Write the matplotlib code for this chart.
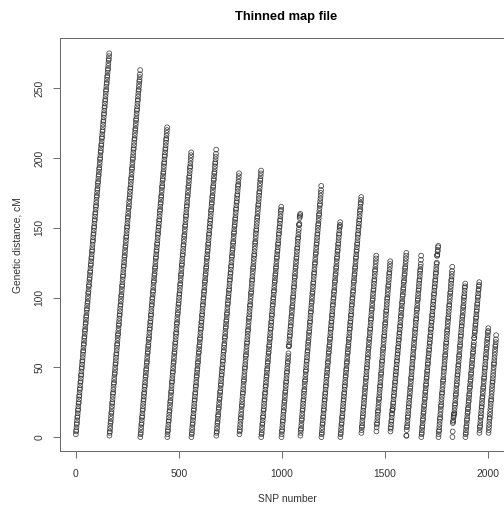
import numpy as np
import matplotlib
matplotlib.use("Agg")
import matplotlib.pyplot as plt

plt.rcParams['font.family'] = ['Liberation Sans', 'DejaVu Sans']

# first SNP number of each chromosome
chrom_start = [0, 163, 313, 444, 561, 682, 794, 900, 998, 1090, 1192, 1284, 1386, 1459, 1527, 1604, 1677, 1760, 1828, 1891, 1959, 2003]

# genetic distance in cM, one list per chromosome
chr1 = [2,4,5,7,9,10,12,14,15,17,19,20,22,24,25,27,29,30,32,34,35,37,39,40,42,44,45,47,49,50,52,54,55,57,59,61,62,64,66,67,69,71,72,74,76,77,79,81,82,84,86,87,89,91,92,94,96,97,99,101,103,104,106,108,109,111,113,114,116,118,119,121,123,124,126,128,129,131,133,134,136,138,140,141,143,145,146,148,150,151,153,155,156,158,160,161,163,165,166,168,170,172,173,175,177,178,180,182,183,185,187,188,190,192,193,195,197,199,200,202,204,205,207,209,210,212,214,215,217,219,220,222,224,226,227,229,231,232,234,236,237,239,241,242,244,246,248,249,251,253,254,256,258,259,261,263,264,266,268,270,271,273,275]
chr2 = [1,3,4,6,8,10,11,13,15,17,18,20,22,24,25,27,29,31,32,34,36,38,39,41,43,45,46,48,50,52,53,55,57,59,60,62,64,66,67,69,71,73,74,76,78,80,81,83,85,87,88,90,92,94,95,97,99,101,102,104,106,108,109,111,113,115,116,118,120,122,123,125,127,129,130,132,134,136,137,139,141,143,144,146,148,150,151,153,155,157,158,160,162,164,165,167,169,171,172,174,176,178,179,181,183,185,186,188,190,192,193,195,197,199,200,202,204,206,207,209,211,213,214,216,218,220,221,223,225,227,228,230,232,234,235,237,239,241,242,244,246,248,249,251,253,255,256,258,260,263]
chr3 = [0,2,3,5,7,9,10,12,14,15,17,19,20,22,24,26,27,29,31,32,34,36,37,39,41,43,44,46,48,49,51,53,54,56,58,60,61,63,65,66,68,70,71,73,75,77,78,80,82,83,85,87,88,90,92,94,95,97,99,100,102,104,105,107,109,111,112,114,116,117,119,121,122,124,126,128,129,131,133,134,136,138,139,141,143,145,146,148,150,151,153,155,156,158,160,162,163,165,167,168,170,172,173,175,177,179,180,182,184,185,187,189,190,192,194,196,197,199,201,202,204,206,207,209,211,213,214,216,218,220,222]
chr4 = [0,2,4,5,7,9,11,12,14,16,18,19,21,23,25,26,28,30,32,33,35,37,39,40,42,44,46,47,49,51,53,54,56,58,60,61,63,65,67,68,70,72,74,75,77,79,81,82,84,86,88,89,91,93,95,96,98,100,102,103,105,107,109,110,112,114,116,117,119,121,123,124,126,128,130,131,133,135,137,138,140,142,144,145,147,149,151,152,154,156,158,159,161,163,165,166,168,170,172,173,175,177,179,180,182,184,186,187,189,191,193,194,196,198,200,202,204]
chr5 = [0,2,3,5,7,9,10,12,14,15,17,19,20,22,24,26,27,29,31,32,34,36,37,39,41,43,44,46,48,49,51,53,54,56,58,60,61,63,65,66,68,70,71,73,75,77,78,80,82,83,85,87,88,90,92,94,95,97,99,100,102,104,105,107,109,111,112,114,116,117,119,121,122,124,126,128,129,131,133,134,136,138,139,141,143,145,146,148,150,151,153,155,156,158,160,162,163,165,167,168,170,172,173,175,177,179,180,182,184,185,187,189,190,192,194,196,197,199,201,203,206]
chr6 = [1,3,4,6,8,10,11,13,15,16,18,20,21,23,25,27,28,30,32,33,35,37,38,40,42,44,45,47,49,50,52,54,55,57,59,61,62,64,66,67,69,71,72,74,76,78,79,81,83,84,86,88,89,91,93,95,96,98,100,101,103,105,106,108,110,112,113,115,117,118,120,122,123,125,127,129,130,132,134,135,137,139,140,142,144,146,147,149,151,152,154,156,157,159,161,163,164,166,168,169,171,173,174,176,178,180,181,183,185,187,189]
chr7 = [2,4,5,7,9,11,13,14,16,18,20,22,23,25,27,29,31,32,34,36,38,40,41,43,45,47,49,50,52,54,56,58,59,61,63,65,67,68,70,72,74,76,77,79,81,83,85,86,88,90,92,94,95,97,99,101,103,104,106,108,110,112,113,115,117,119,121,122,124,126,128,130,131,133,135,137,139,140,142,144,146,148,149,151,153,155,157,158,160,162,164,166,167,169,171,173,175,176,178,180,182,184,185,187,189,191]
chr8 = [0,2,3,5,7,9,10,12,14,15,17,19,20,22,24,26,27,29,31,32,34,36,37,39,41,43,44,46,48,49,51,53,54,56,58,60,61,63,65,66,68,70,71,73,75,77,78,80,82,83,85,87,88,90,92,94,95,97,99,100,102,104,105,107,109,111,112,114,116,117,119,121,122,124,126,128,129,131,133,134,136,138,139,141,143,145,146,148,150,151,153,155,156,158,160,162,163,165]
chr9 = [0,2,4,5,7,9,11,12,14,16,18,19,21,23,25,26,28,30,32,33,35,37,39,40,42,44,46,47,49,51,53,54,56,58,60,65,65,66,68,70,72,73,75,77,79,80,82,84,86,87,89,91,93,94,96,98,100,101,103,105,107,108,110,112,114,115,117,119,121,122,124,126,128,129,131,133,135,136,138,140,142,143,145,147,149,152,152,153,157,158,159,160]
chr10 = [1,3,5,6,8,10,12,13,15,17,19,20,22,24,26,27,29,31,33,34,36,38,40,41,43,45,47,48,50,52,54,55,57,59,61,62,64,66,68,69,71,73,75,76,78,80,82,83,85,87,89,90,92,94,96,97,99,101,103,104,106,108,110,111,113,115,117,118,120,122,124,125,127,129,131,132,134,136,138,139,141,143,145,146,148,150,152,153,155,157,159,160,162,164,166,167,169,171,173,175,177,180]
chr11 = [0,2,3,5,7,9,10,12,14,15,17,19,20,22,24,26,27,29,31,32,34,36,37,39,41,43,44,46,48,49,51,53,54,56,58,60,61,63,65,66,68,70,71,73,75,77,78,80,82,83,85,87,88,90,92,94,95,97,99,100,102,104,105,107,109,111,112,114,116,117,119,121,122,124,126,128,129,131,133,134,136,138,139,141,143,145,146,148,150,151,152,154]
chr12 = [0,2,3,5,7,9,10,12,14,15,17,19,20,22,24,26,27,29,31,32,34,36,37,39,41,43,44,46,48,49,51,53,54,56,58,60,61,63,65,66,68,70,71,73,75,77,78,80,82,83,85,87,88,90,92,94,95,97,99,100,102,104,105,107,109,111,112,114,116,117,119,121,122,124,126,128,129,131,133,134,136,138,139,141,143,145,146,148,150,151,153,155,156,158,160,162,163,165,167,168,170,172]
chr13 = [3,5,7,8,10,12,14,15,17,19,21,22,24,26,28,29,31,33,35,36,38,40,42,43,45,47,49,50,52,54,56,57,59,61,63,64,66,68,70,71,73,75,77,78,80,82,84,85,87,89,91,92,94,96,98,99,101,103,105,106,108,110,112,113,115,117,119,120,122,124,126,128,130]
chr14 = [4,7,9,10,12,14,16,18,19,21,23,25,27,28,30,32,34,36,37,39,41,43,45,46,48,50,52,54,55,57,59,61,63,64,66,68,70,72,73,75,77,79,81,82,84,86,88,90,91,93,95,97,99,100,102,104,106,108,109,111,113,115,117,118,120,122,124,126]
chr15 = [4,6,7,9,11,12,14,16,17,19,20,20,22,24,25,27,29,30,32,34,35,37,39,40,42,44,45,47,49,50,52,54,55,57,59,60,62,64,65,67,69,70,72,74,75,77,79,80,82,84,86,87,89,91,92,94,96,97,99,101,102,104,106,107,109,111,112,114,116,117,119,121,122,124,126,128,130,132]
chr16 = [1,1,5,7,8,10,12,14,15,17,19,21,22,24,26,28,29,31,33,35,36,38,40,42,43,45,47,49,50,52,54,56,57,59,61,63,64,66,68,70,71,73,75,77,78,80,82,84,85,87,89,91,92,94,96,98,99,101,103,105,106,108,110,112,113,115,117,119,120,122,124,127,130]
chr17 = [0,2,3,5,7,8,10,12,13,15,17,18,20,22,23,25,27,28,30,32,33,35,37,38,40,42,43,45,47,48,50,52,53,55,57,58,60,62,63,65,67,68,70,72,73,75,77,78,80,82,83,85,87,88,90,92,93,95,97,98,100,102,103,105,107,108,110,112,113,115,117,118,120,122,124,125,130,130,131,133,134,136,137]
chr18 = [0,2,4,5,7,9,11,13,14,16,18,20,22,23,25,27,29,31,32,34,36,38,40,41,43,45,47,49,50,52,54,56,58,59,61,63,65,67,68,70,72,74,76,77,79,81,83,85,86,88,90,92,94,95,97,99,101,103,104,106,108,110,112,113,115,117,119,122]
chr19 = [0,4,10,11,12,14,15,16,17,17,19,21,23,24,26,28,30,31,33,35,37,38,40,42,44,45,47,49,51,52,54,56,58,59,61,63,65,66,68,70,72,73,75,77,79,80,82,84,86,87,89,91,93,94,96,98,100,101,103,105,107,108,110]
chr20 = [0,2,3,5,7,8,10,12,13,15,17,18,20,21,23,25,26,28,30,31,33,35,36,38,40,41,43,45,46,48,50,51,53,55,56,58,60,61,63,65,66,68,71,71,73,75,76,78,80,81,83,85,86,88,90,91,93,95,96,98,100,101,103,105,106,108,109,111]
chr21 = [3,5,7,8,10,12,14,15,17,19,21,22,24,26,28,29,31,33,35,36,38,40,42,43,45,47,49,50,52,54,56,57,59,61,63,64,66,68,70,71,73,75,76,78]
chr22 = [3,5,7,9,11,13,14,16,18,20,22,24,26,27,29,31,33,35,37,39,40,42,44,46,48,50,52,53,55,57,59,61,63,65,66,68,70,73]

all_chroms = [chr1, chr2, chr3, chr4, chr5, chr6, chr7, chr8, chr9, chr10, chr11,
              chr12, chr13, chr14, chr15, chr16, chr17, chr18, chr19, chr20, chr21, chr22]

fig = plt.figure(figsize=(5.04, 5.08), dpi=100)
# the box runs past the right edge of the picture, as in the original
ax = fig.add_axes([60/504, 1 - 451/508, 452/504, 413/508])

for start, cm in zip(chrom_start, all_chroms):
    snp = start + np.arange(len(cm))
    # scatter instead of plot: plot markers get rounded to whole pixels and look jagged
    pts = ax.scatter(snp, cm, s=12, facecolors='none', edgecolors='#333333', linewidths=0.5)
    pts.set_snap(False)

ax.set_xlim(-77, 2117)
ax.set_ylim(-10, 286)
ax.set_xticks([0, 500, 1000, 1500, 2000])
ax.set_yticks([0, 50, 100, 150, 200, 250])
ax.tick_params(length=5, width=0.6, color='#555555', labelsize=7.4, labelcolor='#333333')
ax.tick_params(axis='x', pad=8)
ax.tick_params(axis='y', pad=6)
plt.setp(ax.get_yticklabels(), rotation=90, va='center')
for s in ax.spines.values():
    s.set_linewidth(0.7)
    s.set_color('#666666')

ax.set_title("Thinned map file", fontsize=9.3, fontweight='bold', pad=13)
fig.text(287/504, 1 - 499/508, "SNP number", fontsize=7.4, ha='center', va='center', color='#333333')
fig.text(18/504, 1 - 245/508, "Genetic distance, cM", fontsize=7.4, rotation=90, ha='center', va='center', color='#333333')

fig.savefig("out.png", dpi=100)
